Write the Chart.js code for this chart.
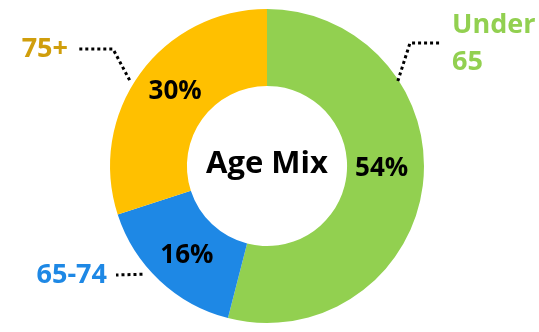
<!DOCTYPE html>
<html>
<head>
<meta charset="utf-8">
<script src="https://cdn.jsdelivr.net/npm/chart.js@4.4.1/dist/chart.umd.min.js"></script>
<style>
  html, body { margin: 0; padding: 0; background: #fff; }
  #wrap { width: 539px; height: 332px; }
</style>
</head>
<body>
<div id="wrap"><canvas id="chartEdad"></canvas></div>
<script>
// datos del gráfico
const categorias = ['Under 65', '65-74', '75+'];
const valores = [54, 16, 30];
const etiquetas = [['Under', '65'], ['65-74'], ['75+']];
const colores = ['#92D050', '#1E88E5', '#FFC000'];
const coloresTexto = ['#92D050', '#1E88E5', '#D09E0C'];
const tituloCentro = 'Age Mix';

const FUENTE = '"Open Sans", Lato, sans-serif';

// etiquetas externas: ángulo (grados desde arriba, sentido horario) donde toca la guía,
// codo y texto relativos al centro
const guias = [
  { ang: 57, r: 156, codo: [143, -123], fin: [175, -123], texto: [185, -141], alinear: 'left', lineas: 37 },
  { ang: 229, r: 165, codo: null, fin: [-151, 109], texto: [-160, 109], alinear: 'right', lineas: 0 },
  { ang: 302, r: 162, codo: [-154, -117], fin: [-190, -117], texto: [-199, -117], alinear: 'right', lineas: 0 }
];
// pequeños ajustes de los porcentajes (px)
const ajustePct = [[-3, -12], [1, 3], [4, -5]];

const pluginEtiquetas = {
  id: 'etiquetasEdad',
  afterDatasetsDraw(chart) {
    const ctx = chart.ctx;
    const meta = chart.getDatasetMeta(0);
    const arc0 = meta.data[0];
    const cx = arc0.x, cy = arc0.y;
    const rOut = arc0.outerRadius, rIn = arc0.innerRadius;
    const total = valores.reduce((a, b) => a + b, 0);

    ctx.save();
    // porcentajes dentro del anillo
    ctx.fillStyle = '#000';
    ctx.font = 'bold 26px ' + FUENTE;
    ctx.textAlign = 'center';
    ctx.textBaseline = 'middle';
    meta.data.forEach((arc, i) => {
      const mid = (arc.startAngle + arc.endAngle) / 2;
      const r = (rOut + rIn) / 2;
      const x = cx + Math.cos(mid) * r + ajustePct[i][0];
      const y = cy + Math.sin(mid) * r + ajustePct[i][1];
      ctx.fillText(Math.round(valores[i] / total * 100) + '%', x, y);
    });

    // texto central
    ctx.font = 'bold 31px ' + FUENTE;
    ctx.fillText(tituloCentro, cx, cy - 2);

    // guías punteadas y nombres
    guias.forEach((g, i) => {
      const a = (g.ang - 90) * Math.PI / 180;
      const x0 = cx + Math.cos(a) * g.r;
      const y0 = cy + Math.sin(a) * g.r;
      ctx.beginPath();
      ctx.setLineDash([3, 3]);
      ctx.lineWidth = 3;
      ctx.strokeStyle = '#000';
      ctx.moveTo(x0, y0);
      if (g.codo) ctx.lineTo(cx + g.codo[0], cy + g.codo[1]);
      ctx.lineTo(cx + g.fin[0], cy + g.fin[1]);
      ctx.stroke();
      ctx.setLineDash([]);

      ctx.fillStyle = coloresTexto[i];
      ctx.font = 'bold 27px ' + FUENTE;
      ctx.textAlign = g.alinear;
      etiquetas[i].forEach((t, k) => {
        ctx.fillText(t, cx + g.texto[0], cy + g.texto[1] + k * g.lineas);
      });
    });
    ctx.restore();
  }
};

new Chart(document.getElementById('chartEdad'), {
  type: 'doughnut',
  data: {
    labels: categorias,
    datasets: [{
      data: valores,
      backgroundColor: colores,
      borderWidth: 0
    }]
  },
  options: {
    responsive: true,
    maintainAspectRatio: false,
    animation: false,
    cutout: '51%',
    layout: { padding: { top: 9, bottom: 9, left: 0, right: 5 } },
    plugins: {
      legend: { display: false },
      tooltip: { enabled: false }
    }
  },
  plugins: [pluginEtiquetas]
});
</script>
</body>
</html>
